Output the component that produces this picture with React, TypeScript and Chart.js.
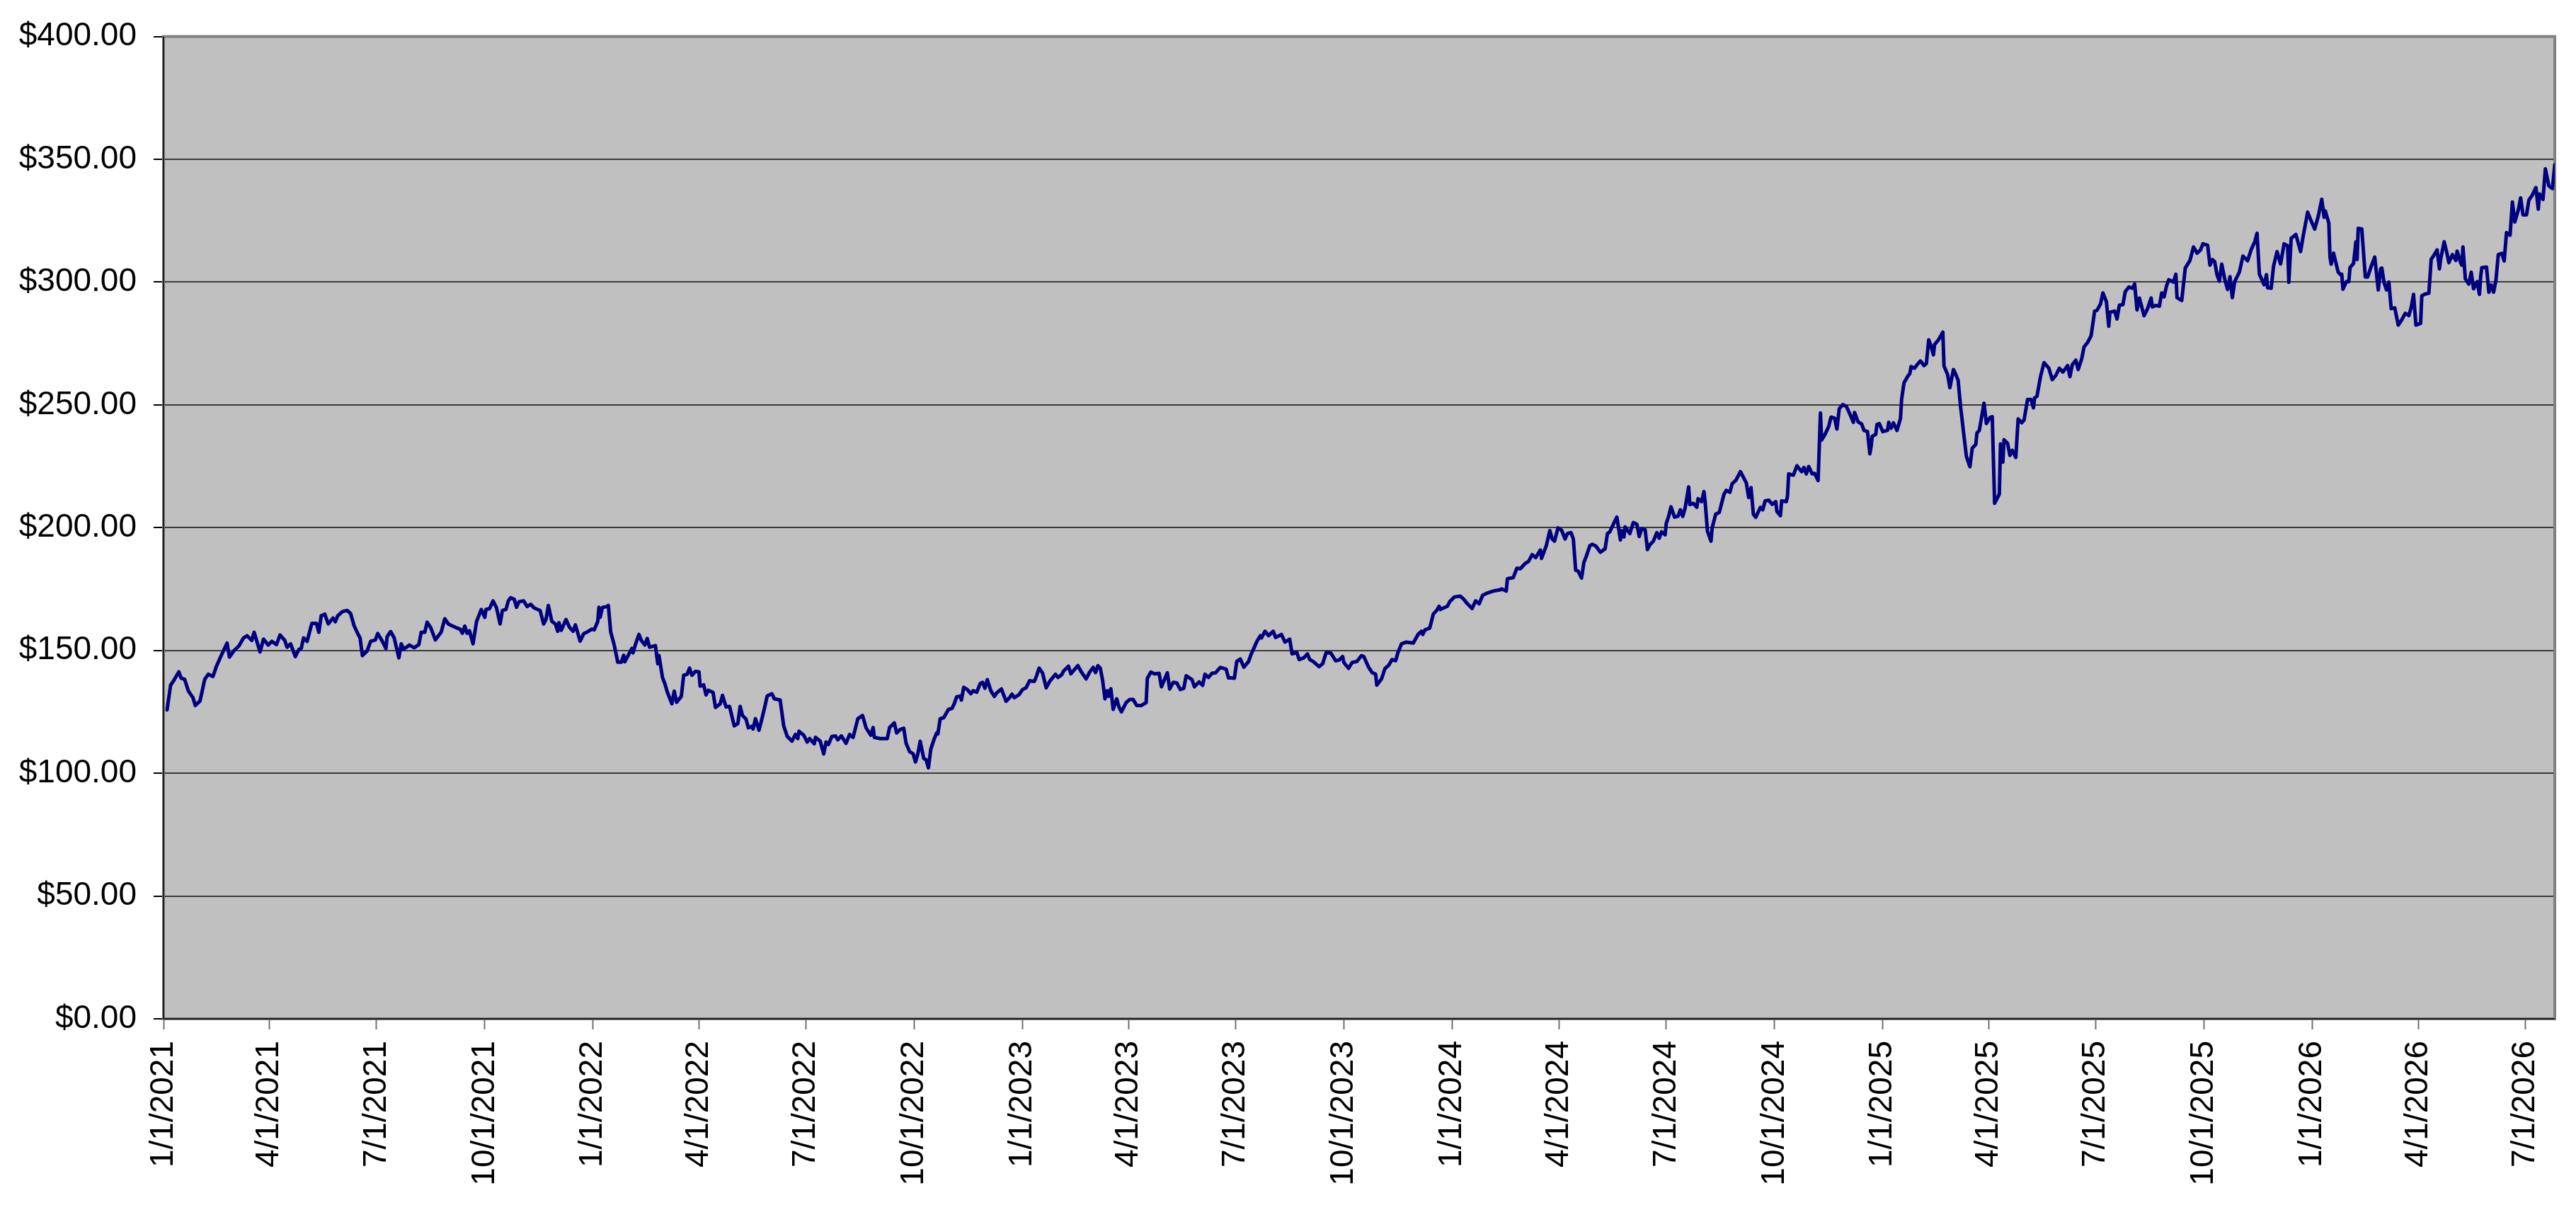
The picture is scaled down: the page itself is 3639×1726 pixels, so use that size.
import { useEffect, useRef } from 'react';
import { Chart, registerables } from 'chart.js';

Chart.register(...registerables);

// day 0 = 1/1/2021
const START_UTC = Date.UTC(2021, 0, 1);
const DAY_MS = 86400000;
const LAST_DAY = 2032;

const quarterLabels = [
  '1/1/2021', '4/1/2021', '7/1/2021', '10/1/2021',
  '1/1/2022', '4/1/2022', '7/1/2022', '10/1/2022',
  '1/1/2023', '4/1/2023', '7/1/2023', '10/1/2023',
  '1/1/2024', '4/1/2024', '7/1/2024', '10/1/2024',
  '1/1/2025', '4/1/2025', '7/1/2025', '10/1/2025',
  '1/1/2026', '4/1/2026', '7/1/2026',
];

const priceTicks = [0, 50, 100, 150, 200, 250, 300, 350, 400];

// trading days, as days after 1/1/2021
const tradeDays = [
  3, 6, 9, 13, 15, 18, 21, 25, 27, 31,
  35, 38, 42, 45, 49, 54, 56, 60, 64, 68,
  71, 75, 77, 82, 85, 89, 92, 96, 99, 103,
  105, 108, 112, 115, 117, 119, 122, 126, 130, 132,
  134, 137, 140, 144, 146, 148, 152, 156, 159, 162,
  165, 167, 169, 173, 176, 180, 182, 186, 189, 190,
  193, 196, 200, 202, 204, 209, 213, 217, 219, 222,
  224, 227, 231, 236, 239, 242, 245, 248, 252, 254,
  256, 258, 260, 263, 266, 270, 273, 274, 277, 280,
  283, 286, 288, 291, 293, 295, 298, 300, 302, 306,
  309, 312, 315, 320, 323, 325, 327, 330, 333, 335,
  336, 338, 342, 345, 348, 350, 354, 357, 361, 364,
  366, 369, 370, 371, 373, 377, 378, 380, 383, 386,
  389, 391, 392, 396, 398, 399, 401, 404, 406, 409,
  411, 413, 418, 420, 421, 424, 426, 428, 432, 434,
  436, 440, 442, 445, 447, 449, 452, 455, 456, 459,
  461, 463, 467, 469, 473, 475, 478, 481, 484, 485,
  488, 490, 492, 495, 497, 500, 501, 503, 506, 508,
  511, 513, 517, 519, 524, 527, 530, 534, 537, 539,
  540, 544, 547, 549, 553, 554, 558, 561, 563, 565,
  568, 571, 573, 576, 580, 583, 586, 590, 594, 597,
  601, 603, 604, 609, 615, 617, 621, 623, 626, 629,
  631, 634, 637, 639, 641, 643, 646, 648, 650, 652,
  655, 657, 658, 660, 663, 667, 670, 672, 674, 677,
  678, 680, 683, 686, 688, 691, 694, 696, 698, 700,
  703, 706, 708, 712, 716, 719, 721, 723, 727, 730,
  733, 736, 740, 742, 744, 747, 750, 753, 758, 760,
  763, 765, 769, 771, 777, 780, 784, 787, 790, 792,
  794, 796, 798, 800, 802, 803, 805, 807, 810, 812,
  814, 818, 821, 824, 827, 831, 835, 836, 839, 842,
  846, 848, 853, 855, 858, 861, 864, 867, 869, 874,
  876, 880, 883, 885, 888, 891, 894, 898, 903, 905,
  908, 910, 912, 915, 918, 922, 924, 927, 929, 932,
  933, 936, 939, 943, 945, 950, 953, 957, 959, 963,
  965, 969, 972, 974, 977, 982, 985, 988, 992, 996,
  999, 1002, 1003, 1007, 1010, 1014, 1018, 1020, 1024, 1027,
  1030, 1031, 1035, 1038, 1041, 1044, 1047, 1049, 1052, 1056,
  1062, 1066, 1069, 1070, 1072, 1076, 1079, 1082, 1084, 1085,
  1091, 1093, 1097, 1102, 1105, 1108, 1112, 1115, 1118, 1121,
  1125, 1130, 1136, 1137, 1141, 1142, 1147, 1150, 1153, 1157,
  1160, 1163, 1166, 1170, 1171, 1175, 1178, 1180, 1182, 1185,
  1188, 1191, 1193, 1196, 1198, 1200, 1202, 1205, 1207, 1209,
  1212, 1214, 1217, 1221, 1225, 1227, 1229, 1232, 1235, 1238,
  1239, 1241, 1242, 1246, 1249, 1252, 1254, 1256, 1259, 1261,
  1263, 1266, 1269, 1271, 1273, 1276, 1277, 1279, 1281, 1284,
  1287, 1289, 1291, 1293, 1296, 1297, 1300, 1303, 1304, 1307,
  1309, 1310, 1312, 1315, 1316, 1319, 1322, 1326, 1328, 1331,
  1333, 1336, 1340, 1345, 1347, 1349, 1351, 1353, 1357, 1359,
  1361, 1364, 1367, 1370, 1371, 1374, 1375, 1379, 1380, 1381,
  1385, 1388, 1392, 1394, 1396, 1398, 1401, 1403, 1406, 1408,
  1409, 1412, 1415, 1417, 1420, 1422, 1424, 1427, 1430, 1433,
  1436, 1437, 1440, 1443, 1445, 1448, 1450, 1451, 1452, 1455,
  1456, 1458, 1461, 1465, 1466, 1468, 1470, 1473, 1476, 1477,
  1479, 1482, 1484, 1485, 1488, 1490, 1493, 1496, 1498, 1500,
  1502, 1504, 1505, 1508, 1512, 1513, 1516, 1518, 1521, 1523,
  1525, 1527, 1530, 1532, 1535, 1537, 1540, 1541, 1543, 1547,
  1549, 1552, 1554, 1556, 1560, 1561, 1563, 1564, 1567, 1569,
  1571, 1574, 1576, 1579, 1581, 1584, 1587, 1589, 1590, 1592,
  1595, 1598, 1602, 1605, 1608, 1611, 1614, 1618, 1620, 1622,
  1625, 1627, 1630, 1632, 1635, 1638, 1641, 1643, 1646, 1648,
  1651, 1653, 1654, 1658, 1660, 1662, 1665, 1667, 1670, 1673,
  1675, 1677, 1679, 1683, 1686, 1689, 1690, 1693, 1696, 1698,
  1700, 1702, 1704, 1708, 1710, 1711, 1715, 1718, 1722, 1725,
  1728, 1731, 1733, 1737, 1739, 1741, 1743, 1745, 1747, 1749,
  1752, 1754, 1756, 1758, 1760, 1764, 1767, 1771, 1774, 1777,
  1779, 1781, 1785, 1787, 1788, 1791, 1793, 1796, 1799, 1802,
  1805, 1806, 1808, 1812, 1816, 1818, 1822, 1825, 1828, 1831,
  1834, 1836, 1837, 1840, 1841, 1842, 1844, 1848, 1850, 1851,
  1852, 1855, 1857, 1858, 1861, 1863, 1864, 1865, 1868, 1871,
  1873, 1876, 1879, 1882, 1884, 1885, 1887, 1889, 1891, 1893,
  1896, 1899, 1902, 1905, 1908, 1910, 1912, 1914, 1918, 1919,
  1921, 1925, 1927, 1929, 1932, 1934, 1935, 1938, 1940, 1942,
  1945, 1948, 1949, 1952, 1953, 1954, 1956, 1959, 1961, 1963,
  1966, 1968, 1969, 1970, 1974, 1976, 1978, 1980, 1982, 1984,
  1987, 1989, 1991, 1994, 1996, 1998, 2001, 2003, 2005, 2008,
  2010, 2013, 2016, 2018, 2019, 2022, 2024, 2027, 2030, 2032,
];

const closePrices = [
  125.8, 135.8, 138.0, 141.3, 138.7, 138.2, 133.6, 130.8, 127.6, 129.4,
  138.2, 140.3, 139.4, 143.6, 147.9, 153.0, 147.3, 150.0, 151.8, 155.1,
  156.0, 154.1, 157.4, 149.4, 154.6, 152.2, 153.7, 152.4, 156.3, 154.1,
  151.3, 152.7, 147.5, 150.4, 150.8, 155.1, 153.7, 161.0, 161.0, 157.4,
  164.1, 164.8, 160.8, 163.2, 161.7, 164.1, 165.8, 166.3, 165.0, 160.0,
  156.9, 155.1, 147.9, 149.8, 153.7, 154.3, 156.9, 153.7, 150.8, 155.6,
  157.7, 155.1, 147.0, 152.7, 150.5, 152.2, 151.1, 152.4, 157.4, 157.4,
  161.5, 159.3, 154.3, 157.5, 162.9, 160.8, 160.1, 159.4, 158.7, 157.0,
  159.9, 157.0, 158.0, 152.7, 161.8, 166.7, 163.5, 166.7, 167.0, 170.2,
  167.3, 160.8, 166.3, 166.7, 170.2, 171.5, 170.8, 167.6, 169.8, 170.2,
  167.9, 168.8, 167.3, 166.3, 160.8, 162.6, 168.3, 161.8, 160.8, 157.8,
  161.3, 158.2, 162.6, 159.4, 157.8, 160.4, 153.8, 156.8, 157.8, 158.7,
  158.4, 161.8, 167.6, 163.5, 167.5, 167.9, 168.3, 157.5, 152.2, 145.2,
  145.2, 148.0, 145.4, 149.0, 150.8, 149.0, 152.4, 156.5, 154.1, 152.2,
  154.9, 151.3, 152.0, 144.6, 148.0, 139.0, 136.5, 133.2, 128.3, 133.4,
  128.9, 131.3, 139.9, 140.3, 142.8, 139.9, 141.5, 141.3, 135.5, 136.0,
  131.9, 133.8, 132.9, 126.8, 128.2, 131.7, 127.0, 127.2, 121.2, 119.3,
  120.2, 127.2, 123.5, 122.0, 118.5, 119.1, 118.0, 122.2, 117.5, 121.2,
  127.2, 131.5, 132.4, 130.3, 129.8, 119.3, 115.0, 113.1, 115.8, 114.1,
  117.1, 115.5, 112.7, 114.1, 112.0, 114.6, 113.1, 107.9, 112.7, 111.7,
  115.0, 115.2, 113.6, 115.2, 112.2, 115.8, 114.6, 122.2, 123.5, 118.5,
  115.5, 118.6, 114.6, 114.1, 114.1, 118.6, 120.5, 116.4, 117.8, 118.3,
  112.2, 108.8, 107.9, 104.6, 107.9, 113.0, 106.0, 105.5, 102.2, 109.8,
  114.1, 116.4, 116.0, 122.2, 122.6, 126.0, 126.4, 128.4, 131.1, 131.4,
  129.8, 135.0, 134.1, 132.4, 133.6, 133.0, 136.5, 137.0, 134.6, 138.1,
  133.6, 131.3, 132.7, 134.3, 129.3, 130.8, 132.2, 130.8, 132.0, 134.1,
  134.8, 137.7, 137.4, 139.8, 142.8, 140.8, 134.8, 137.4, 140.3, 139.0,
  140.0, 141.7, 143.6, 140.5, 143.8, 141.2, 138.4, 141.2, 143.1, 141.0,
  143.8, 142.8, 137.9, 130.3, 133.6, 131.3, 134.4, 126.0, 130.3, 126.9,
  125.0, 128.8, 130.0, 130.0, 127.6, 127.6, 128.8, 138.6, 141.2, 140.5,
  140.7, 135.2, 140.9, 134.3, 137.0, 136.8, 134.1, 134.6, 139.7, 138.1,
  135.2, 137.2, 135.8, 140.3, 139.0, 140.7, 140.9, 143.1, 142.4, 138.8,
  138.8, 138.7, 145.5, 146.5, 143.2, 145.5, 148.2, 151.4, 153.6, 156.0,
  155.1, 157.8, 156.0, 157.8, 155.3, 156.5, 153.4, 154.6, 148.6, 149.2,
  146.3, 147.0, 148.6, 146.3, 145.5, 143.4, 144.6, 149.2, 148.9, 145.8,
  146.1, 147.5, 145.1, 142.7, 145.1, 145.5, 147.9, 147.5, 143.2, 141.0,
  140.3, 135.9, 138.4, 142.7, 143.9, 146.3, 145.8, 149.2, 152.7, 153.4,
  153.0, 156.5, 157.8, 156.5, 158.4, 159.1, 164.8, 166.4, 168.0, 166.7,
  168.0, 169.9, 171.8, 172.1, 170.8, 169.0, 167.1, 170.2, 169.0, 172.5,
  173.4, 174.2, 174.7, 175.1, 174.2, 179.2, 179.7, 183.5, 183.3, 185.4,
  186.3, 189.0, 187.8, 190.9, 187.5, 192.6, 198.8, 195.4, 194.5, 199.9,
  199.0, 195.4, 197.6, 198.0, 195.4, 182.6, 182.4, 179.5, 185.9, 188.3,
  192.6, 193.2, 192.6, 190.0, 191.4, 197.6, 198.3, 201.4, 204.3, 195.0,
  198.8, 196.2, 200.3, 197.6, 202.1, 201.4, 196.4, 199.5, 199.2, 191.1,
  193.0, 194.5, 198.0, 195.7, 198.3, 197.1, 201.8, 204.6, 208.5, 204.3,
  204.7, 207.3, 204.6, 208.0, 216.6, 209.4, 209.9, 208.3, 211.8, 210.6,
  214.7, 210.6, 198.5, 194.5, 200.0, 205.5, 206.2, 213.6, 215.2, 214.4,
  217.9, 219.2, 222.8, 218.2, 212.3, 216.3, 205.5, 204.2, 208.3, 207.3,
  210.9, 211.2, 209.5, 210.6, 206.6, 204.9, 210.9, 210.6, 212.8, 221.9,
  221.4, 225.2, 222.8, 224.5, 221.9, 224.9, 221.9, 222.1, 219.2, 246.7,
  235.7, 238.1, 241.2, 245.0, 244.6, 240.2, 248.5, 250.1, 249.4, 246.3,
  242.9, 246.9, 243.1, 242.2, 239.6, 239.1, 230.1, 232.9, 237.2, 238.0,
  242.0, 242.4, 239.1, 239.6, 242.9, 240.5, 242.7, 239.6, 244.4, 252.4,
  259.0, 261.5, 262.8, 265.6, 264.9, 266.3, 267.9, 266.0, 266.8, 276.5,
  273.9, 270.4, 274.6, 276.3, 279.6, 265.8, 262.4, 257.0, 264.4, 262.4,
  260.0, 249.6, 237.2, 229.1, 224.8, 232.4, 233.9, 238.6, 239.6, 250.7,
  242.4, 244.8, 245.2, 209.9, 213.7, 234.1, 226.7, 235.8, 234.3, 229.4,
  231.5, 228.6, 244.3, 242.7, 243.8, 252.2, 252.2, 248.8, 252.9, 253.5,
  261.5, 267.2, 265.0, 260.3, 262.0, 264.9, 263.4, 266.0, 261.5, 266.3,
  268.2, 264.4, 268.8, 273.6, 275.4, 278.2, 288.2, 288.5, 291.1, 295.6,
  292.0, 282.0, 287.7, 288.2, 285.0, 290.6, 290.8, 296.1, 298.0, 297.5,
  299.2, 288.7, 293.5, 286.3, 289.2, 293.5, 289.9, 290.5, 290.2, 295.6,
  294.0, 298.3, 301.0, 300.0, 303.2, 293.7, 292.5, 305.7, 308.8, 314.3,
  311.8, 313.1, 315.6, 315.0, 306.9, 309.2, 308.3, 303.0, 300.4, 307.3,
  300.3, 297.0, 302.2, 293.7, 300.2, 304.1, 310.6, 308.7, 313.2, 316.3,
  319.9, 303.2, 298.9, 303.0, 297.7, 297.5, 306.4, 312.4, 307.4, 315.6,
  314.7, 299.9, 317.8, 319.4, 312.4, 318.2, 328.5, 324.9, 321.6, 326.8,
  333.7, 326.4, 329.0, 324.0, 310.2, 307.3, 311.8, 304.0, 303.0, 303.2,
  297.1, 300.2, 300.2, 305.9, 307.6, 316.4, 309.2, 321.9, 321.6, 302.1,
  302.1, 306.4, 310.2, 296.8, 305.4, 305.7, 299.7, 296.8, 300.0, 289.2,
  289.5, 282.5, 284.7, 287.3, 286.4, 289.7, 295.0, 282.5, 283.2, 294.4,
  295.0, 295.5, 309.3, 310.7, 313.1, 305.4, 309.3, 316.4, 312.6, 307.9,
  311.2, 308.8, 312.6, 307.9, 306.9, 314.3, 301.3, 299.2, 304.0, 297.3,
  300.2, 295.0, 302.1, 305.9, 306.1, 295.9, 298.8, 295.9, 300.7, 311.2,
  311.7, 308.6, 320.2, 319.1, 332.6, 324.5, 329.3, 334.3, 327.4, 327.4,
  333.4, 335.5, 338.5, 329.7, 335.9, 333.7, 346.1, 339.2, 338.1, 347.8,
];

const labelFont = { family: '"Liberation Sans", Arial, sans-serif', size: 46 };

function dayOf(label: string) {
  const [m, d, y] = label.split('/').map(Number);
  return Math.round((Date.UTC(y, m - 1, d) - START_UTC) / DAY_MS);
}

const quarterDays = quarterLabels.map(dayOf);

// grey plot area with its frame, like the spreadsheet chart
const plotFrame = {
  id: 'plotFrame',
  beforeDraw(chart: Chart) {
    const { ctx, chartArea: a } = chart;
    ctx.save();
    ctx.fillStyle = '#c0c0c0';
    ctx.fillRect(a.left, a.top, a.right - a.left, a.bottom - a.top);
    ctx.restore();
  },
  beforeDatasetsDraw(chart: Chart) {
    const { ctx, chartArea: a } = chart;
    ctx.save();
    ctx.strokeStyle = '#808080';
    ctx.lineWidth = 4;
    ctx.strokeRect(a.left, a.top, a.right - a.left, a.bottom - a.top);
    ctx.strokeStyle = '#202020';
    ctx.lineWidth = 2;
    ctx.beginPath();
    ctx.moveTo(a.left, a.top);
    ctx.lineTo(a.left, a.bottom);
    ctx.lineTo(a.right, a.bottom);
    ctx.stroke();
    ctx.restore();
  },
};

export default function App() {
  const canvasRef = useRef<HTMLCanvasElement>(null);

  useEffect(() => {
    if (!canvasRef.current) return;
    const chart = new Chart(canvasRef.current, {
      type: 'line',
      data: {
        datasets: [{
          label: 'Price',
          data: tradeDays.map((d, i) => ({ x: d, y: closePrices[i] })),
          borderColor: '#000080',
          borderWidth: 5,
          borderJoinStyle: 'round',
          borderCapStyle: 'round',
          pointRadius: 0,
          tension: 0,
          fill: false,
        }],
      },
      options: {
        animation: false,
        responsive: true,
        maintainAspectRatio: false,
        layout: { padding: { top: 41, right: 28, left: 0, bottom: 0 } },
        plugins: {
          legend: { display: false },
          tooltip: { enabled: false },
        },
        scales: {
          x: {
            type: 'linear',
            min: 0,
            max: LAST_DAY,
            afterBuildTicks: (scale: any) => {
              scale.ticks = quarterDays.map(value => ({ value }));
            },
            afterFit: (scale: any) => { scale.height = 287; },
            border: { display: false },
            grid: {
              drawOnChartArea: false,
              drawTicks: true,
              tickLength: 15,
              tickColor: '#707070',
              tickWidth: 2,
            },
            ticks: {
              autoSkip: false,
              minRotation: 90,
              maxRotation: 90,
              padding: 16,
              color: '#000',
              font: labelFont,
              callback: (_v: any, i: number) => quarterLabels[i],
            },
          },
          y: {
            min: 0,
            max: 400,
            afterBuildTicks: (scale: any) => {
              scale.ticks = priceTicks.map(value => ({ value }));
            },
            afterFit: (scale: any) => { scale.width = 231; },
            border: { display: false },
            grid: {
              color: '#3a3a3a',
              lineWidth: 2,
              tickLength: 14,
              tickColor: '#000',
              tickWidth: 2,
            },
            ticks: {
              padding: 24,
              color: '#000',
              font: labelFont,
              callback: (v: any) => '$' + Number(v).toFixed(2),
            },
          },
        },
      },
      plugins: [plotFrame],
    });
    return () => chart.destroy();
  }, []);

  return (
    <div style={{ position: 'fixed', left: 0, top: 0, width: '3639px', height: '1726px', background: '#fff' }}>
      <canvas ref={canvasRef} />
    </div>
  );
}
